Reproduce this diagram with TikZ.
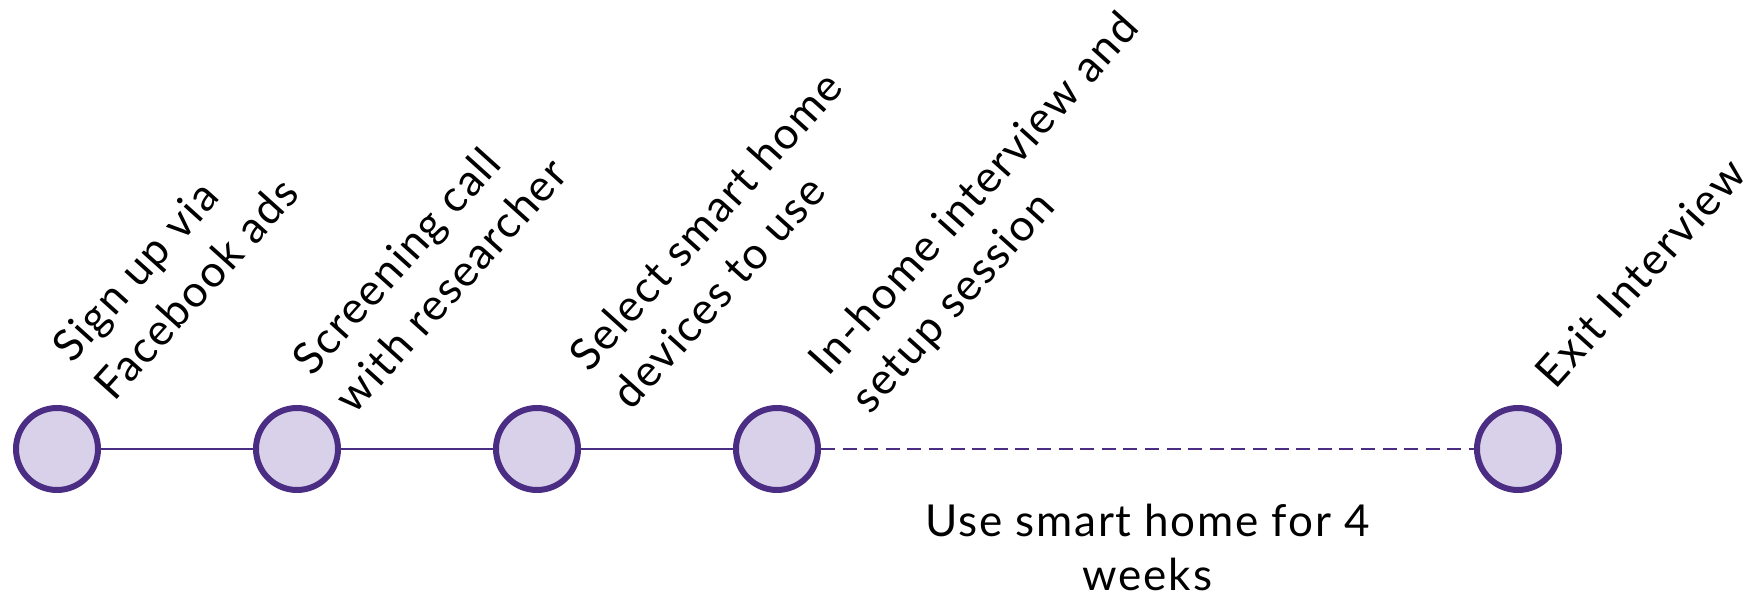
\documentclass[tikz,border=0pt]{standalone}
\usepackage{fontspec}
\setmainfont{Lato}[LetterSpace=4]
\usetikzlibrary{positioning}
\definecolor{stagepurple}{HTML}{4B2E83}
\definecolor{stagefill}{HTML}{D9D1E9}

\begin{document}
\begin{tikzpicture}[x=0.5pt, y=-0.5pt,
    stage/.style={circle, draw=stagepurple, fill=stagefill, line width=3pt, minimum size=41pt, inner sep=0pt},
    stagelabel/.style={rotate=48, anchor=south west, align=left, inner sep=0pt, font=\fontsize{22}{28.5}\selectfont},
    link/.style={draw=stagepurple, line width=1pt}]
    \useasboundingbox (0,0) rectangle (1758,599);

    % Stages
    \node[stage] (s1) at (57,449) {};
    \node[stage] (s2) at (297,449) {};
    \node[stage] (s3) at (537,449) {};
    \node[stage] (s4) at (777,449) {};
    \node[stage] (s5) at (1518,449) {};

    % Links
    \draw[link] (s1) -- (s2);
    \draw[link] (s2) -- (s3);
    \draw[link] (s3) -- (s4);
    \draw[link, dash pattern=on 7pt off 3.8pt] (s4) -- (s5)
        node[midway, below=27pt, align=center, inner sep=0pt, font=\fontsize{22}{27}\selectfont] (usetext) {Use smart home for 4\\weeks};

    % Stage labels
    \node[stagelabel] (l1) at ([shift={(58,-46)}]s1.center) {Sign up via\\Facebook ads};
    \node[stagelabel] (l2) at ([shift={(58,-33)}]s2.center) {Screening call\\with researcher};
    \node[stagelabel] (l3) at ([shift={(95,-37)}]s3.center) {Select smart home\\devices to use};
    \node[stagelabel] (l4) at ([shift={(99,-28)}]s4.center) {In-home interview and\\setup session};
    \node[stagelabel] (l5) at ([shift={(38,-58)}]s5.center) {Exit Interview};
\end{tikzpicture}
\end{document}
